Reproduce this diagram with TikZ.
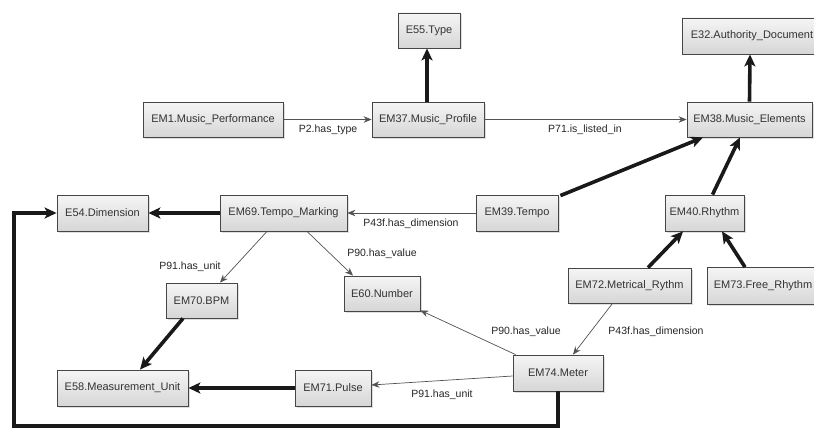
\documentclass[tikz,border=0pt]{standalone}
\usepackage{fontspec}
\setmainfont{Liberation Sans}
\usetikzlibrary{arrows.meta,shadows}
\begin{document}
\begin{tikzpicture}[x=1pt,y=-1pt,
  box/.style={draw=gray!55!black, line width=0.8pt, top color=gray!8, bottom color=gray!32,
    drop shadow={opacity=0.25, shadow xshift=1.5pt, shadow yshift=-1.5pt},
    inner sep=0pt, minimum height=35pt, text=black!80,
    font=\fontsize{11}{13}\selectfont},
  thin/.style={draw=gray!65!black, line width=0.7pt, -{Stealth[length=8pt,width=6.5pt]}},
  thick/.style={draw=black!90, line width=3.6pt, -{Stealth[length=12pt,width=11pt,inset=3pt]}},
  thickline/.style={draw=black!90, line width=3.6pt},
  lbl/.style={text=gray!30!black, font=\fontsize{10.5}{12}\selectfont, inner sep=0pt}
]
\useasboundingbox (0,0) rectangle (814,428);
\fill[white] (0,0) rectangle (814,428);

% nodes
\node[box, minimum width=140pt] (em1) at (213,119.5) {EM1.Music\_Performance};
\node[box, minimum width=112pt] (em37) at (428,119.5) {EM37.Music\_Profile};
\node[box, minimum width=62pt] (e55) at (429,30.5) {E55.Type};
\node[box, minimum width=140pt, minimum height=36pt] (e32) at (752,36) {E32.Authority\_Document};
\node[box, minimum width=125pt] (em38) at (749.5,119.5) {EM38.Music\_Elements};
\node[box, minimum width=91pt, minimum height=36pt] (e54) at (102.5,213) {E54.Dimension};
\node[box, minimum width=127pt, minimum height=36pt] (em69) at (283.5,213) {EM69.Tempo\_Marking};
\node[box, minimum width=82pt, minimum height=36pt] (em39) at (517,213) {EM39.Tempo};
\node[box, minimum width=79pt, minimum height=36pt] (em40) at (704.5,213) {EM40.Rhythm};
\node[box, minimum width=71pt] (em70) at (201.5,300.5) {EM70.BPM};
\node[box, minimum width=76pt] (e60) at (382,293.5) {E60.Number};
\node[box, minimum width=123pt] (em72) at (629.5,285.5) {EM72.Metrical\_Rythm};
\node[box, minimum width=112pt, minimum height=37pt] (em73) at (763,286) {EM73.Free\_Rhythm};
\node[box, minimum width=131pt, minimum height=36pt] (e58) at (122.5,388) {E58.Measurement\_Unit};
\node[box, minimum width=76pt, minimum height=36pt] (em71) at (333,388) {EM71.Pulse};
\node[box, minimum width=90pt, minimum height=36pt] (em74) at (558,373) {EM74.Meter};

% coordinates for the loop
\coordinate (c2) at (14,426);

% thin connectors
\draw[thin] (em1) -- (em37);
\node[lbl] (l1) at (328,130) {P2.has\_type};
\draw[thin] (em37) -- (em38);
\node[lbl] (l2) at (585,130) {P71.is\_listed\_in};
\draw[thin] (em39) -- (em69);
\node[lbl] (l3) at (411,224) {P43f.has\_dimension};
\draw[thin] ([xshift=-16.5pt]em69.south) -- ([xshift=18.5pt]em70.north);
\node[lbl] (l4) at (190,267) {P91.has\_unit};
\draw[thin] ([xshift=23.5pt]em69.south) -- ([xshift=-29pt]e60.north);
\node[lbl] (l5) at (382,254) {P90.has\_value};
\draw[thin] ([xshift=-17pt]em72.south) -- ([xshift=15pt]em74.north);
\node[lbl] (l6) at (656,332) {P43f.has\_dimension};
\draw[thin] ([xshift=3pt]em74.north west) -- ([yshift=1pt]e60.south east);
\node[lbl] (l7) at (526,332) {P90.has\_value};
\draw[thin] ([yshift=-3pt]em74.west) -- ([yshift=3pt]em71.east);
\node[lbl] (l8) at (442,395) {P91.has\_unit};

% thick connectors
\draw[thick] ([xshift=-1pt]em37.north) -- ([xshift=-2pt]e55.south);
\draw[thick] (em38.north) -- ([xshift=-2pt]e32.south);
\draw[thick] ([xshift=2pt,yshift=-1pt]em39.north east) -- ([xshift=-46.5pt]em38.south);
\draw[thick] ([xshift=8pt]em40.north) -- ([xshift=-9.5pt]em38.south);
\draw[thick] ([xshift=18.5pt]em72.north) -- ([xshift=-21.5pt]em40.south);
\draw[thick] ([xshift=-18pt]em73.north) -- ([xshift=17.5pt]em40.south);
\draw[thick] (em69) -- (e54);
\draw[thick] ([xshift=-18.5pt]em70.south) -- ([xshift=17.5pt]e58.north);
\draw[thick] (em71) -- (e58);
\draw[thick] (em74.south) |- (c2) |- (e54.west);
\end{tikzpicture}
\end{document}
